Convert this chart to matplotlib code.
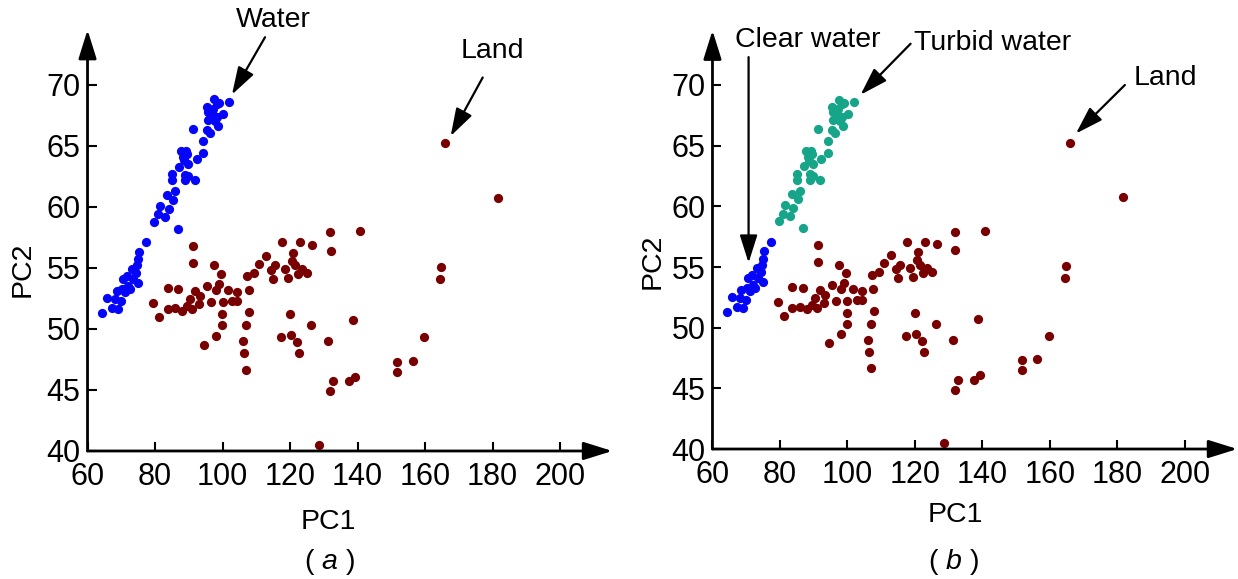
import matplotlib
matplotlib.use('Agg')
import matplotlib.pyplot as plt

plt.rcParams['font.family'] = ['Liberation Sans', 'DejaVu Sans']
plt.rcParams['mathtext.fontset'] = 'custom'
plt.rcParams['mathtext.rm'] = 'Liberation Sans'
plt.rcParams['mathtext.it'] = 'Liberation Sans:italic'

# clear water (blue in both panels)
clear_x = [64.4, 65.7, 67.2, 68.1, 69.1, 68.6, 69.9, 70.1, 71.1, 70.6, 71.6,
           72.1, 72.6, 73.1, 73.6, 74.4, 74.8, 75.1, 75.4, 74.9, 77.3]
clear_y = [51.3, 52.5, 51.7, 52.45, 51.6, 53.1, 52.3, 53.3, 53.0, 54.1, 54.35,
           53.5, 53.3, 54.9, 54.1, 54.6, 55.2, 55.7, 56.3, 53.8, 57.1]

# turbid water (blue in panel a, green in panel b)
turbid_x = [79.7, 81.0, 81.5, 83.0, 83.5, 84.0, 84.9, 85.4, 85.9, 85.0, 86.9,
            87.2, 87.6, 88.2, 88.6, 89.2, 89.4, 89.7, 89.0, 88.9, 89.9, 91.4,
            91.9, 92.3, 94.1, 94.3, 95.3, 95.8, 96.3, 96.8, 95.3, 95.8, 97.5,
            98.3, 98.8, 99.1, 97.8, 98.3, 100.2, 101.9, 97.3]
turbid_y = [58.8, 59.4, 60.1, 59.2, 61.0, 59.85, 62.2, 60.6, 61.3, 62.7, 58.2,
            63.3, 64.6, 64.1, 63.8, 64.6, 64.3, 63.5, 62.2, 62.65, 62.5, 66.4,
            62.2, 63.9, 64.4, 65.4, 66.3, 67.1, 66.05, 67.7, 68.2, 67.8, 68.8,
            68.4, 66.6, 68.5, 67.0, 67.4, 67.6, 68.6, 68.0]

land_x = [79.3, 81.1, 83.7, 86.9, 83.7, 85.9, 87.9, 89.6, 90.9, 90.4, 91.9,
          93.3, 93.1, 91.4, 91.4, 95.5, 96.5, 97.5, 98.1, 99.5, 99.1, 100.0,
          101.7, 102.7, 104.2, 104.4, 99.8, 99.8, 98.0, 94.6, 107.2, 107.7,
          107.9, 107.0, 106.0, 106.4, 107.0, 109.3, 110.9, 113.0, 114.5, 114.9,
          115.6, 117.6, 118.5, 119.5, 120.5, 121.0, 121.5, 122.3, 123.0, 123.5,
          125.1, 126.6, 131.9, 132.0, 120.0, 117.3, 120.3, 122.2, 122.7, 126.1,
          131.2, 131.9, 132.8, 137.6, 139.3, 138.6, 140.7, 128.7, 165.9, 181.7,
          164.7, 164.5, 159.8, 151.6, 151.8, 156.3]
land_y = [52.1, 51.0, 53.35, 53.3, 51.6, 51.7, 51.5, 51.85, 51.6, 52.45, 53.1,
          52.7, 52.05, 56.8, 55.4, 53.5, 52.2, 55.2, 53.2, 54.5, 53.7, 52.2,
          53.2, 52.3, 52.3, 53.0, 51.2, 50.3, 49.45, 48.7, 54.35, 53.15,
          51.4, 50.3, 48.97, 48.0, 46.65, 54.6, 55.3, 55.95, 54.8, 54.1,
          55.2, 57.1, 54.95, 54.2, 55.6, 56.2, 55.2, 54.5, 57.1, 54.9,
          54.6, 56.9, 57.9, 56.4, 51.2, 49.3, 49.5, 48.9, 48.0, 50.3,
          48.97, 44.9, 45.7, 45.7, 46.1, 50.7, 58.0, 40.5, 65.2, 60.75,
          55.1, 54.1, 49.3, 47.3, 46.5, 47.4]

x_ticks = [60, 80, 100, 120, 140, 160, 180, 200]
y_ticks = [40, 45, 50, 55, 60, 65, 70]

BLUE = '#0505f8'
GREEN = '#17a589'
BROWN = '#780000'
DOT = 44


def style_axes(ax):
    ax.set_xlim(60, 215.5)
    ax.set_ylim(40, 74.5)
    for s in ax.spines.values():
        s.set_visible(False)
    ax.set_xticks(x_ticks)
    ax.set_yticks(y_ticks)
    ax.tick_params(direction='in', length=6.5, width=1.5, labelsize=22)
    ax.tick_params(axis='x', pad=8)
    ax.tick_params(axis='y', pad=5)
    arrow = dict(arrowstyle='-|>,head_length=0.8,head_width=0.25', lw=2,
                 color='black', shrinkA=0, shrinkB=0, mutation_scale=22)
    ax.annotate('', xy=(1, 0), xytext=(0, 0), xycoords='axes fraction',
                arrowprops=arrow, annotation_clip=False)
    ax.annotate('', xy=(0, 1), xytext=(0, 0), xycoords='axes fraction',
                arrowprops=arrow, annotation_clip=False)


def label_arrow(ax, text, tip, text_pos, tail):
    ax.text(text_pos[0], text_pos[1], text, fontsize=20.5, ha='center',
            va='center', clip_on=False)
    ax.annotate('', xy=tip, xytext=tail,
                arrowprops=dict(arrowstyle='-|>,head_length=0.85,head_width=0.27',
                                lw=1.6, color='black', shrinkA=0, shrinkB=0,
                                mutation_scale=20),
                annotation_clip=False)


fig = plt.figure(figsize=(12.38, 5.79), dpi=100)
ax_a = fig.add_axes([0.0707, 0.2211, 0.4239, 0.7273])
ax_b = fig.add_axes([0.5755, 0.2245, 0.4239, 0.7230])

# panel (a)
ax_a.scatter(clear_x + turbid_x, clear_y + turbid_y, s=DOT, color=BLUE,
             linewidths=0, zorder=3)
ax_a.scatter(land_x, land_y, s=DOT, color=BROWN, linewidths=0, zorder=3)
style_axes(ax_a)
label_arrow(ax_a, 'Water', (102.8, 69.2), (115.1, 75.3), (112.6, 73.9))
label_arrow(ax_a, 'Land', (167.6, 65.8), (180.1, 72.8), (177.1, 70.6))

# panel (b)
ax_b.scatter(clear_x, clear_y, s=DOT, color=BLUE, linewidths=0, zorder=3)
ax_b.scatter(turbid_x, turbid_y, s=DOT, color=GREEN, linewidths=0, zorder=3)
ax_b.scatter(land_x, land_y, s=DOT, color=BROWN, linewidths=0, zorder=3)
style_axes(ax_b)
label_arrow(ax_b, 'Clear water', (70.7, 55.35), (88.3, 73.7), (70.7, 72.3))
label_arrow(ax_b, 'Turbid water', (103.9, 69.2), (143.1, 73.5), (118.7, 73.4))
label_arrow(ax_b, 'Land', (167.7, 66.0), (194.2, 70.55), (182.2, 70.0))

# axis titles and panel tags
fig.text(328 / 1238, 1 - 522 / 579, 'PC1', fontsize=20.5, ha='center', va='center')
fig.text(955 / 1238, 1 - 515 / 579, 'PC1', fontsize=20.5, ha='center', va='center')
fig.text(23 / 1238, 1 - 269 / 579, 'PC2', fontsize=20.5, ha='center', va='center',
         rotation=90)
fig.text(653 / 1238, 1 - 261 / 579, 'PC2', fontsize=20.5, ha='center', va='center',
         rotation=90)
fig.text(329 / 1238, 1 - 562 / 579, r'( $\mathit{a}$ )', fontsize=20.5,
         ha='center', va='center')
fig.text(953 / 1238, 1 - 562 / 579, r'( $\mathit{b}$ )', fontsize=20.5,
         ha='center', va='center')

fig.savefig('out.png', dpi=100)
